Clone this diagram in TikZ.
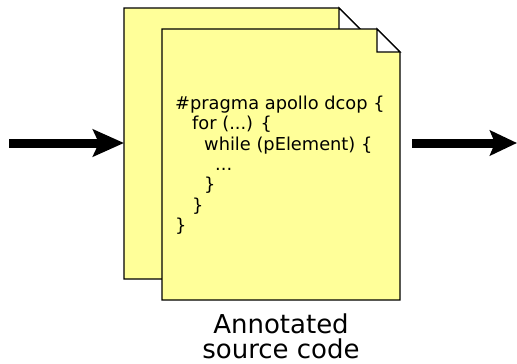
\documentclass[tikz,border=0pt]{standalone}
\usepackage{fontspec}
\setmainfont{DejaVu Sans}
\usetikzlibrary{arrows.meta}
\definecolor{pagefill}{HTML}{FFFF99}

\begin{document}
\begin{tikzpicture}[x=1pt,y=-1pt,
  page/.style={draw=none, fill=none, minimum width=238pt, minimum height=271pt,
    inner sep=0pt, outer sep=0pt},
  sheet/.style={draw=black, line width=1.3pt, fill=pagefill, line join=miter},
  ear/.style={draw=black, line width=1.3pt, fill=white, line join=miter},
  flow/.style={line width=9pt},
  code/.style={anchor=base west, inner sep=0pt, font=\fontsize{17.8}{20}\selectfont},
  caption/.style={anchor=base, inner sep=0pt, font=\fontsize{26}{30}\selectfont}]

\useasboundingbox (0,0) rectangle (517,364);

% two stacked source files
\node[page] (back)  at (243,143.5) {};
\node[page] (front) at (281,164.5) {};

\foreach \p in {back,front}{
  \draw[sheet] (\p.north west) -- ([xshift=-23pt]\p.north east)
    -- ([yshift=-23pt]\p.north east) -- (\p.south east) -- (\p.south west) -- cycle;
  \draw[ear] ([xshift=-23pt]\p.north east) -- ([xshift=-23pt,yshift=-23pt]\p.north east)
    -- ([yshift=-23pt]\p.north east) -- cycle;
}

% annotated code on the front file
\node[code] (l1) at (175,109)   {\#pragma apollo dcop \{};
\node[code] (l2) at (192,129.5) {for (...) \{};
\node[code] (l3) at (204,150)   {while (pElement) \{};
\node[code] (l4) at (215,170)   {...};
\node[code] (l5) at (204,190.5) {\}};
\node[code] (l6) at (192,211)   {\}};
\node[code] (l7) at (175,231.5) {\}};

% caption
\node[caption] (cap1) at (281,333) {Annotated};
\node[caption] (cap2) at (281,358) {source code};

% input and output arrows
\coordinate (in)  at (9,143);
\coordinate (out) at (517,143);
\draw[flow, -{Stealth[length=31pt, width=27pt, inset=6pt]}] (in) -- (back.west |- in);
\draw[flow, -{Stealth[length=27pt, width=25pt, inset=5pt]}]
  ([xshift=12pt]front.east |- out) -- (out);
\end{tikzpicture}
\end{document}
